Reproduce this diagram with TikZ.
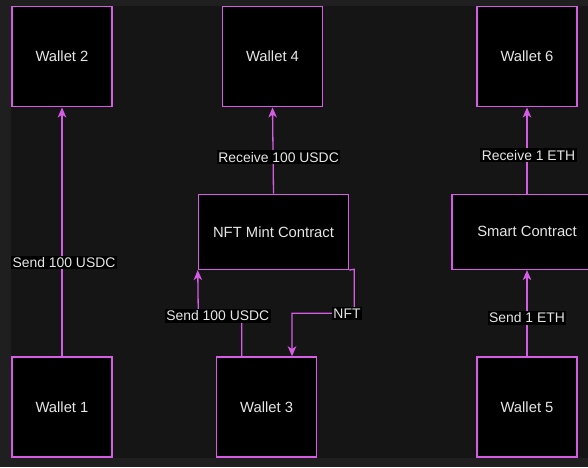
\documentclass[tikz,border=0pt]{standalone}
\usepackage{fontspec}
\setmainfont{Liberation Sans}
\usetikzlibrary{arrows.meta}
\definecolor{edgec}{RGB}{214,92,230}
\definecolor{outerbg}{RGB}{31,31,31}
\definecolor{innerbg}{RGB}{21,21,21}
\definecolor{txt}{RGB}{230,230,230}
\begin{document}
\begin{tikzpicture}[x=1pt,y=-1pt,
  box/.style={draw=edgec,fill=black,line width=1.5pt,text=txt,
    font=\fontsize{14.8}{17}\selectfont,inner sep=0pt},
  wallet/.style={box,minimum width=100pt,minimum height=100pt},
  contract/.style={box,minimum width=150pt,minimum height=75pt},
  arr/.style={draw=edgec,line width=1.3pt,-{Stealth[length=10pt,width=8.5pt,inset=2.8pt]}},
  lbl/.style={fill=black,text=txt,font=\fontsize{13.9}{15}\selectfont,inner xsep=1.5pt,inner ysep=1.5pt}]
\useasboundingbox (0,0) rectangle (588,467);
\clip (0,0) rectangle (588,467);
\fill[outerbg] (0,0) rectangle (588,467);
\fill[innerbg] (11.3,6) rectangle (588,458);
% nodes
\node[wallet] (w2) at (62,56.7) {Wallet 2};
\node[wallet] (w1) at (62,407) {Wallet 1};
\node[wallet] (w4) at (272.5,56.7) {Wallet 4};
\node[contract] (nft) at (273.5,231.8) {NFT Mint Contract};
\node[wallet] (w3) at (266.7,407) {Wallet 3};
\node[wallet] (w6) at (527,56.7) {Wallet 6};
\node[contract] (sc) at (527,231.8) {Smart Contract};
\node[wallet] (w5) at (527,407) {Wallet 5};
% connectors
\draw[arr] (w1.north) -- node[lbl,pos=0.376,xshift=2pt] (l1) {Send 100 USDC} (w2.south);
\draw[arr] (nft.north) -- node[lbl,pos=0.424,xshift=5.5pt] (l2) {Receive 100 USDC} (w4.south);
\draw[arr] (sc.north) -- node[lbl,pos=0.447,xshift=1.5pt] (l3) {Receive 1 ETH} (w6.south);
\draw[arr] (w5.north) -- node[lbl,pos=0.444] (l4) {Send 1 ETH} (sc.south);
\coordinate (s3a) at (241.7,316);
\coordinate (s3b) at (198.3,316);
\draw[arr] ([xshift=-25pt]w3.north) -- (s3a) -- (s3b) -- (nft.south west);
\node[lbl] (l5) at (217.8,316) {Send 100 USDC};
\coordinate (n1) at (354.3,269.3);
\coordinate (n2) at (354.3,313.3);
\coordinate (n3) at (292,313.3);
\draw[arr] (nft.south east) -- (n1) -- (n2) -- (n3) -- (n3 |- w3.north);
\node[lbl] (l6) at (347,313.3) {NFT};
\end{tikzpicture}
\end{document}
